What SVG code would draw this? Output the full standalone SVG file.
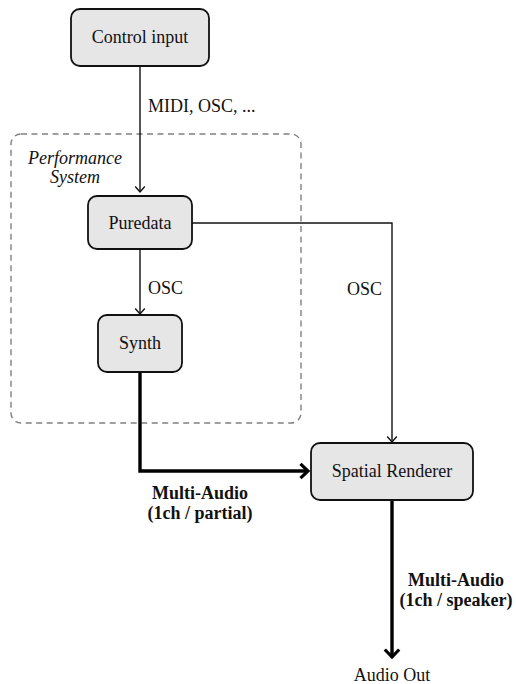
<svg xmlns="http://www.w3.org/2000/svg" width="516" height="684" viewBox="0 0 516 684" font-family="'Liberation Serif', 'DejaVu Serif', serif" font-size="18">
  <defs>
    <style>
      .node rect { fill: #e6e6e6; stroke: #111; stroke-width: 1.8; }
      text { fill: #111; }
      .lbl { text-anchor: middle; }
      .bold { font-weight: bold; }
      .thin { fill: none; stroke: #111; stroke-width: 1.4; }
      .thick { fill: none; stroke: #000; stroke-width: 3.4; }
      .group { fill: none; stroke: #808080; stroke-width: 1.4; stroke-dasharray: 6 4.5; }
    </style>
    <marker id="arrowThin" markerUnits="userSpaceOnUse" viewBox="-8 -7 10 14" refX="0" refY="0" markerWidth="10" markerHeight="14" orient="auto" overflow="visible">
      <path d="M-5.5,-4.8 L0,0 L-5.5,4.8" fill="none" stroke="#111" stroke-width="1.4"/>
    </marker>
    <marker id="arrowThick" markerUnits="userSpaceOnUse" viewBox="-10 -10 12 20" refX="0" refY="0" markerWidth="12" markerHeight="20" orient="auto" overflow="visible">
      <path d="M-7.5,-7.2 L0,0 L-7.5,7.2" fill="none" stroke="#000" stroke-width="3.2"/>
    </marker>
  </defs>

  <!-- Performance system grouping -->
  <g id="performance-system">
    <rect class="group" x="11" y="134" width="290" height="289" rx="10"/>
    <text class="lbl" x="75" y="164" font-style="italic">Performance</text>
    <text class="lbl" x="75" y="183" font-style="italic">System</text>
  </g>

  <!-- Connectors -->
  <g id="connectors">
    <path class="thin" d="M140,66 L140,192" marker-end="url(#arrowThin)"/>
    <text x="148" y="112">MIDI, OSC, ...</text>

    <path class="thin" d="M140,249 L140,314" marker-end="url(#arrowThin)"/>
    <text x="148" y="294">OSC</text>

    <path class="thin" d="M192,223 L392,223 L392,442" marker-end="url(#arrowThin)"/>
    <text x="347" y="295">OSC</text>

    <path class="thick" d="M140,372 L140,471 L308,471" marker-end="url(#arrowThick)"/>
    <text class="lbl bold" x="200" y="499">Multi-Audio</text>
    <text class="lbl bold" x="200" y="519">(1ch / partial)</text>

    <path class="thick" d="M392,500 L392,657" marker-end="url(#arrowThick)"/>
    <text class="lbl bold" x="456" y="586">Multi-Audio</text>
    <text class="lbl bold" x="456" y="606">(1ch / speaker)</text>

    <text class="lbl" x="392" y="681">Audio Out</text>
  </g>

  <!-- Nodes -->
  <g id="control-input" class="node">
    <rect x="71" y="9" width="138" height="57" rx="9"/>
    <text class="lbl" x="140" y="43">Control input</text>
  </g>

  <g id="puredata" class="node">
    <rect x="88" y="196" width="104" height="53" rx="9"/>
    <text class="lbl" x="140" y="229">Puredata</text>
  </g>

  <g id="synth" class="node">
    <rect x="98" y="315" width="84" height="57" rx="9"/>
    <text class="lbl" x="140" y="349">Synth</text>
  </g>

  <g id="spatial-renderer" class="node">
    <rect x="311" y="443" width="162" height="57" rx="9"/>
    <text class="lbl" x="392" y="477">Spatial Renderer</text>
  </g>
</svg>
